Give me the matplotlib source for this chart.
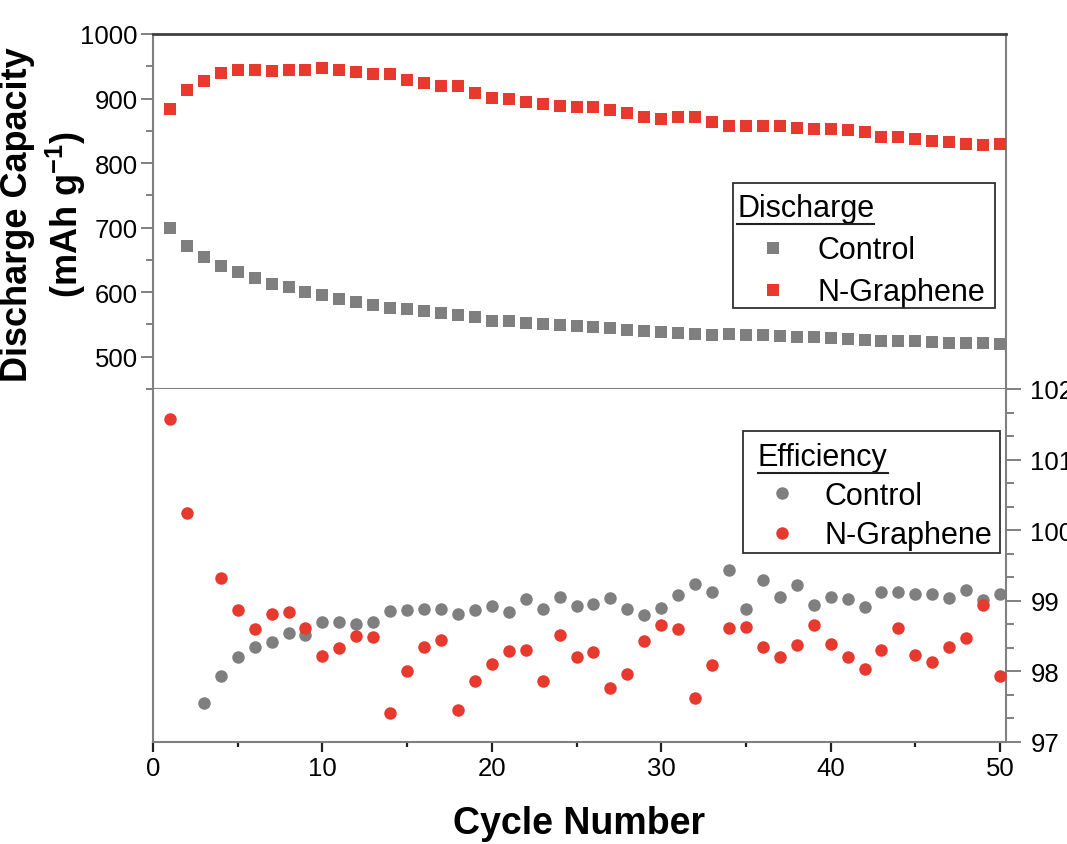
import matplotlib
matplotlib.use('Agg')
import matplotlib.pyplot as plt
import numpy as np
from matplotlib.ticker import MultipleLocator
from matplotlib.lines import Line2D
from matplotlib.patches import Rectangle

plt.rcParams['font.family'] = ['Liberation Sans', 'DejaVu Sans']
plt.rcParams['mathtext.fontset'] = 'custom'
plt.rcParams['mathtext.rm'] = 'Liberation Sans'
plt.rcParams['mathtext.bf'] = 'Liberation Sans:bold'

nan = np.nan
cycles = list(range(1, 51))

discharge_control = [700, 672, 655, 641, 632, 622, 613, 608, 601, 595,
                     590, 585, 580, 576, 574, 571, 567, 564, 561, 556,
                     555, 552, 550, 549, 547, 546, 545, 542, 540, 538,
                     536, 535, 534, 535, 533, 533, 532, 531, 530, 529,
                     527, 526, 525, 525, 524, 523, 522, 521, 521, 520]
discharge_ngraphene = [884, 913, 927, 939, 944, 945, 943, 944, 944, 948,
                       944, 941, 938, 938, 928, 924, 919, 919, 909, 901,
                       899, 895, 892, 888, 887, 887, 883, 877, 871, 869,
                       871, 871, 864, 858, 858, 858, 858, 854, 853, 853,
                       852, 848, 841, 840, 838, 834, 832, 830, 828, 830]
eff_control = [nan, nan, 97.55, 97.94, 98.21, 98.35, 98.42, 98.55, 98.51, 98.70,
               98.70, 98.67, 98.70, 98.85, 98.87, 98.89, 98.88, 98.82, 98.87, 98.93,
               98.84, 99.03, 98.88, 99.05, 98.93, 98.96, 99.04, 98.89, 98.80, 98.90,
               99.08, 99.24, 99.13, 99.44, 98.89, 99.29, 99.05, 99.22, 98.94, 99.06,
               99.02, 98.91, 99.12, 99.12, 99.09, 99.10, 99.04, 99.15, 99.01, 99.10]
eff_ngraphene = [101.57, 100.25, nan, 99.33, 98.87, 98.60, 98.82, 98.84, 98.61, 98.22,
                 98.33, 98.50, 98.49, 97.41, 98.01, 98.34, 98.44, 97.46, 97.86, 98.11,
                 98.29, 98.31, 97.86, 98.51, 98.20, 98.28, 97.76, 97.96, 98.43, 98.66,
                 98.60, 97.62, 98.09, 98.62, 98.63, 98.34, 98.21, 98.37, 98.66, 98.39,
                 98.20, 98.04, 98.30, 98.62, 98.23, 98.13, 98.34, 98.48, 98.94, 97.93]

series_labels = ['Control', 'N-Graphene']
GREY = '#7f7f7f'
RED = '#e8392f'
SPINE = '#808080'

W, H = 1067, 845
fig = plt.figure(figsize=(W / 100, H / 100), dpi=100)
L, R = 153 / W, 1006 / W
ax1 = fig.add_axes([L, 1 - 390 / H, R - L, (390 - 35) / H])
ax2 = fig.add_axes([L, 1 - 743 / H, R - L, (743 - 390) / H], sharex=ax1)

# top panel
ax1.plot(cycles, discharge_control, 's', color=GREY, ms=8.3, mew=0, zorder=3)
ax1.plot(cycles, discharge_ngraphene, 's', color=RED, ms=8.3, mew=0, zorder=3)
ax1.set_ylim(450, 1000)
ax1.set_xlim(0, 50.35)
ax1.yaxis.set_major_locator(MultipleLocator(100))
ax1.yaxis.set_minor_locator(MultipleLocator(50))
ax1.set_yticks([500, 600, 700, 800, 900, 1000])
ax1.tick_params(axis='x', which='both', bottom=False, labelbottom=False, top=False)
ax1.tick_params(axis='y', which='major', direction='out', length=9, width=1.4,
                color=SPINE, labelsize=18.5, pad=2)
ax1.tick_params(axis='y', which='minor', direction='out', length=5, width=1.4, color=SPINE)
for s in ['left', 'right', 'bottom']:
    ax1.spines[s].set_color(SPINE)
    ax1.spines[s].set_linewidth(1.5)
ax1.spines['top'].set_color('#404040')
ax1.spines['top'].set_linewidth(2.0)

# bottom panel
ax2.plot(cycles, eff_control, 'o', color=GREY, ms=9, mew=0, zorder=3)
ax2.plot(cycles, eff_ngraphene, 'o', color=RED, ms=9, mew=0, zorder=4)
ax2.set_ylim(97, 102)
ax2.yaxis.set_major_locator(MultipleLocator(1))
ax2.yaxis.set_minor_locator(MultipleLocator(1 / 3))
ax2.tick_params(axis='y', which='both', left=False, labelleft=False,
                right=True, labelright=True)
ax2.tick_params(axis='y', which='major', direction='out', length=10.5, width=1.4,
                color=SPINE, labelsize=18.5, pad=7)
ax2.tick_params(axis='y', which='minor', direction='out', length=5.5, width=1.4, color=SPINE)
ax2.xaxis.set_major_locator(MultipleLocator(10))
ax2.xaxis.set_minor_locator(MultipleLocator(5))
ax2.tick_params(axis='x', which='major', direction='out', length=7, width=1.6,
                color='#202020', labelsize=18.5, pad=3)
ax2.tick_params(axis='x', which='minor', direction='out', length=3.5, width=1.6,
                color='#202020')
ax2.spines['top'].set_visible(False)
for s in ['left', 'right', 'bottom']:
    ax2.spines[s].set_color(SPINE)
    ax2.spines[s].set_linewidth(1.5)

ax2.set_xlabel('Cycle Number', fontsize=27, fontweight='bold')
ax2.xaxis.set_label_coords(0.5, (743 - 824) / (743 - 390))
ax2.xaxis.label.set_va('center')

fig.text(44 / W, 1 - 215 / H, 'Discharge Capacity\n(mAh g$^{\\mathbf{-1}}$)',
         rotation=90, ha='center', va='center', fontsize=26, fontweight='bold',
         multialignment='center', linespacing=1.25)

# legends
h_sq = [Line2D([], [], ls='none', marker='s', color=c, ms=8.3, mew=0) for c in (GREY, RED)]
h_ci = [Line2D([], [], ls='none', marker='o', color=c, ms=9, mew=0) for c in (GREY, RED)]

leg1 = ax1.legend(h_sq, series_labels, title='Discharge', loc='upper left',
                  bbox_to_anchor=(737 / W, 1 - 194 / H), bbox_transform=fig.transFigure,
                  frameon=False, borderpad=0, borderaxespad=0, fontsize=22,
                  title_fontsize=22, alignment='left', handlelength=2.35,
                  handletextpad=0.3, labelspacing=0.4)
leg2 = ax2.legend(h_ci, series_labels, title='Efficiency', loc='upper left',
                  bbox_to_anchor=(758 / W, 1 - 443 / H), bbox_transform=fig.transFigure,
                  frameon=False, borderpad=0, borderaxespad=0, fontsize=22,
                  title_fontsize=22, alignment='left', handlelength=1.57,
                  handletextpad=0.62, labelspacing=0.3)

for (x0, y0, x1, y1) in [(733, 184, 995, 309), (743, 432, 1000, 554)]:
    fig.add_artist(Rectangle((x0 / W, 1 - y1 / H), (x1 - x0) / W, (y1 - y0) / H,
                             transform=fig.transFigure, fill=False,
                             ec='#303030', lw=1.3, zorder=10))

fig.canvas.draw()
renderer = fig.canvas.get_renderer()
inv = fig.transFigure.inverted()
for leg in (leg1, leg2):
    bb = leg.get_title().get_window_extent(renderer)
    (fx0, fy), (fx1, _) = inv.transform([(bb.x0, bb.y0 - 0.5), (bb.x1, bb.y0)])
    fig.add_artist(Line2D([fx0, fx1], [fy, fy], transform=fig.transFigure,
                          color='#202020', lw=1.5, zorder=10))

fig.savefig('out.png', dpi=100)
